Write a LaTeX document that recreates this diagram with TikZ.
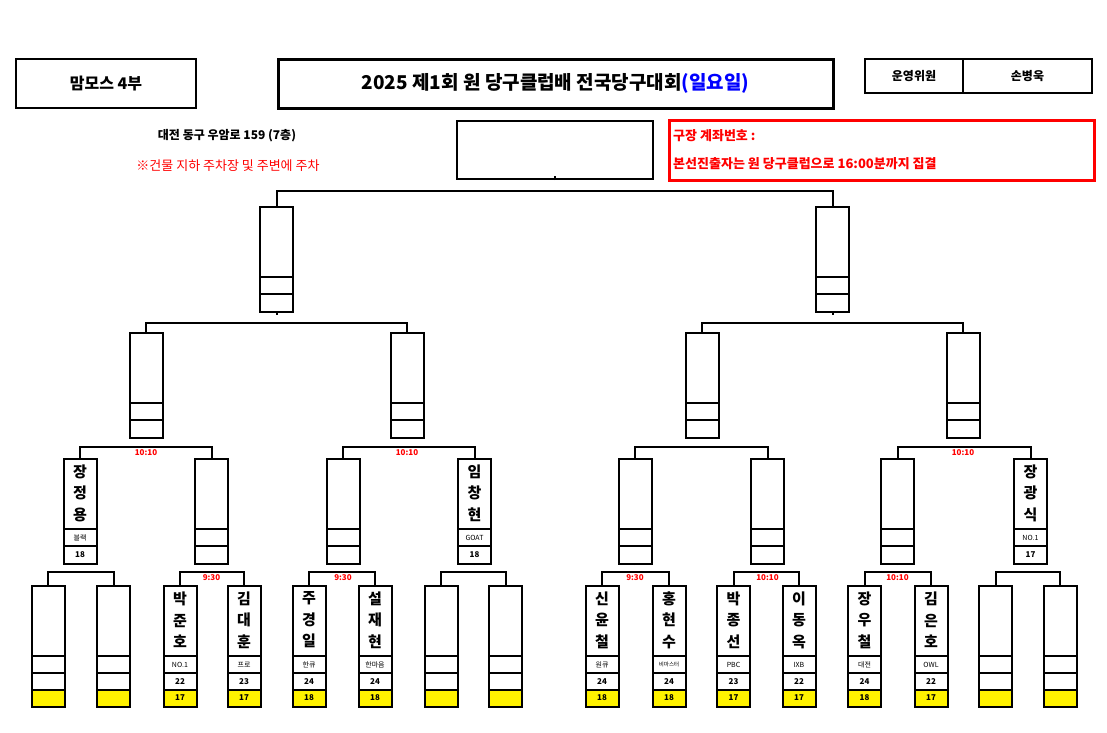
\documentclass[tikz,border=0pt]{standalone}
\usepackage{fontspec}
\newfontfamily\cjk{Noto Sans CJK KR}
\usetikzlibrary{calc}
\tikzset{
  bx/.style={draw=black,line width=2pt,inner sep=0pt,minimum width=33pt,anchor=north},
  ln/.style={line width=2pt},
  nm/.style={font=\cjk\bfseries\fontsize{15}{21.5}\selectfont,align=center,inner sep=0pt},
  cl/.style={font=\cjk\fontsize{7}{8}\selectfont,inner sep=0pt},
  nu/.style={font=\cjk\bfseries\fontsize{8}{9}\selectfont,inner sep=0pt},
  tm/.style={font=\cjk\bfseries\fontsize{8}{9}\selectfont,text=red,inner sep=0pt},
}
% generic box: name, cx, top, chars, club, num
\newcommand\gbox[6]{%
  \node[bx,minimum height=105pt] (#1) at (#2,#3) {};
  \draw[ln] (#2-16.5,#3+71) -- (#2+16.5,#3+71);
  \draw[ln] (#2-16.5,#3+88) -- (#2+16.5,#3+88);
  \node[nm] at (#2,#3+35) {#4};
  \node[cl] at (#2,#3+79.5) {#5};
  \node[nu] at (#2,#3+96.5) {#6};
}
% bottom box: name, cx, chars, club, num, yellow num
\newcommand\lbox[6]{%
  \fill[yellow] (#2-16.5,690) rectangle (#2+16.5,706);
  \node[bx,minimum height=121pt] (#1) at (#2,585) {};
  \draw[ln] (#2-16.5,656) -- (#2+16.5,656);
  \draw[ln] (#2-16.5,673) -- (#2+16.5,673);
  \draw[ln] (#2-16.5,690) -- (#2+16.5,690);
  \node[nm] at (#2,620) {#3};
  \node[cl] at (#2,664.5) {#4};
  \node[nu] at (#2,681.5) {#5};
  \node[nu] at (#2,698) {#6};
}
% bracket: parent, child1, child2, rise
\newcommand\brk[4]{%
  \draw[ln] (#2.north) -- ++(0,-#4) -| (#3.north);
  \draw[ln] (#1.south) -- ++(0,{11-#4+0}) ;
}
\begin{document}
\begin{tikzpicture}[x=1pt,y=-1pt]
\useasboundingbox (0,0) rectangle (1107,732);
\fill[white] (0,0) rectangle (1107,732);
% header
\node[draw,line width=2pt,minimum width=180pt,minimum height=49pt,inner sep=0pt,font=\cjk\bfseries\fontsize{16}{18}\selectfont] (dept) at (106,83.5) {맘모스 4부};
\node[draw,line width=3pt,minimum width=555pt,minimum height=49pt,inner sep=0pt,font=\cjk\bfseries\fontsize{19}{22}\selectfont] (title) at (555.5,83.5) {2025 제1회 원 당구클럽배 전국당구대회\textcolor{blue}{(일요일)}};
\node[draw,line width=2pt,minimum width=98pt,minimum height=34pt,inner sep=0pt,font=\cjk\bfseries\fontsize{12}{14}\selectfont] (staff) at (914,76) {운영위원};
\node[draw,line width=2pt,minimum width=129pt,minimum height=34pt,inner sep=0pt,font=\cjk\bfseries\fontsize{12}{14}\selectfont] (staffn) at (1027.5,76) {손병욱};
\node[font=\cjk\bfseries\fontsize{12}{14}\selectfont] (addr) at (227,136) {대전 동구 우암로 159 (7층)};
\node[font=\cjk\fontsize{13}{15}\selectfont,text=red] (park) at (228,166) {※건물 지하 주차장 및 주변에 주차};
\node[draw=red,line width=3pt,minimum width=425pt,minimum height=60pt,inner sep=0pt] (notice) at (881.5,150) {};
\node[font=\cjk\bfseries\fontsize{13}{15}\selectfont,text=red,anchor=west,inner sep=0pt] (n1) at (673,136) {구장 계좌번호 :};
\node[font=\cjk\bfseries\fontsize{13}{15}\selectfont,text=red,anchor=west,inner sep=0pt] (n2) at (673,164) {본선진출자는 원 당구클럽으로 16:00분까지 집결};
% final
\node[draw,line width=2pt,minimum width=196pt,minimum height=58pt,inner sep=0pt,anchor=north] (fin) at (555,120) {};
% level 1
\gbox{a}{276.5}{206}{}{}{}
\gbox{b}{832.5}{206}{}{}{}
% level 2
\gbox{a1}{146}{332}{}{}{}
\gbox{a2}{407}{332}{}{}{}
\gbox{b1}{702}{332}{}{}{}
\gbox{b2}{963}{332}{}{}{}
% level 3
\gbox{c1}{80}{458}{장\\정\\용}{블랙}{18}
\gbox{c2}{211.5}{458}{}{}{}
\gbox{c3}{343}{458}{}{}{}
\gbox{c4}{474.5}{458}{임\\창\\현}{GOAT}{18}
\gbox{c5}{635}{458}{}{}{}
\gbox{c6}{767.5}{458}{}{}{}
\gbox{c7}{897.5}{458}{}{}{}
\gbox{c8}{1030.5}{458}{장\\광\\식}{NO.1}{17}
% level 4
\lbox{d1}{48}{}{}{}{}
\lbox{d2}{113.5}{}{}{}{}
\lbox{d3}{180}{박\\준\\호}{NO.1}{22}{17}
\lbox{d4}{244}{김\\대\\훈}{프로}{23}{17}
\lbox{d5}{309}{주\\경\\일}{한큐}{24}{18}
\lbox{d6}{375}{설\\재\\현}{한마음}{24}{18}
\lbox{d7}{441}{}{}{}{}
\lbox{d8}{505.5}{}{}{}{}
\lbox{d9}{602}{신\\윤\\철}{원큐}{24}{18}
\lbox{d10}{669}{홍\\현\\수}{\fontsize{5.5}{6}\selectfont 비마스터}{24}{18}
\lbox{d11}{733.5}{박\\종\\선}{PBC}{23}{17}
\lbox{d12}{799}{이\\동\\옥}{IXB}{22}{17}
\lbox{d13}{864.5}{장\\우\\철}{대전}{24}{18}
\lbox{d14}{931}{김\\은\\호}{OWL}{22}{17}
\lbox{d15}{995.5}{}{}{}{}
\lbox{d16}{1060}{}{}{}{}
% connectors
\brk{fin}{a}{b}{15}
\brk{a}{a1}{a2}{9}
\brk{b}{b1}{b2}{9}
\brk{a1}{c1}{c2}{11}
\brk{a2}{c3}{c4}{11}
\brk{b1}{c5}{c6}{11}
\brk{b2}{c7}{c8}{11}
\brk{c1}{d1}{d2}{13}
\brk{c2}{d3}{d4}{13}
\brk{c3}{d5}{d6}{13}
\brk{c4}{d7}{d8}{13}
\brk{c5}{d9}{d10}{13}
\brk{c6}{d11}{d12}{13}
\brk{c7}{d13}{d14}{13}
\brk{c8}{d15}{d16}{13}
% times
\node[tm] (t1) at (146,452.5) {10:10};
\node[tm] (t2) at (407,452.5) {10:10};
\node[tm] (t3) at (963,452.5) {10:10};
\node[tm] (t4) at (211.5,577.5) {9:30};
\node[tm] (t5) at (343,577.5) {9:30};
\node[tm] (t6) at (635,577.5) {9:30};
\node[tm] (t7) at (767.5,577.5) {10:10};
\node[tm] (t8) at (897.5,577.5) {10:10};
\end{tikzpicture}
\end{document}
